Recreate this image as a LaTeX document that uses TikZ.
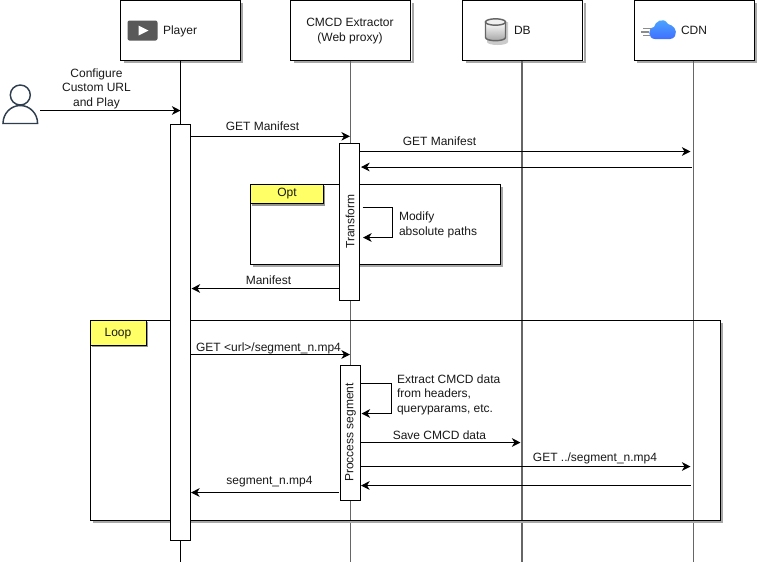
\documentclass[tikz,border=0pt]{standalone}
\usepackage{fontspec}
\setmainfont{Liberation Sans}
\usetikzlibrary{arrows.meta,shadings}
\definecolor{shadowgray}{HTML}{A8A8A8}
\definecolor{lifegray}{HTML}{666666}
\definecolor{noteyellow}{HTML}{FFFF66}
\definecolor{persondark}{HTML}{2F3E4E}
\tikzset{
  x=0.75pt,y=-0.75pt,
  every node/.style={font=\fontsize{9pt}{10.9pt}\selectfont,text=black!90,inner sep=0pt,outer sep=0pt},
  headbox/.style={draw=black,fill=white,line width=0.75pt,minimum width=90pt,minimum height=45pt,anchor=north west},
  actbar/.style={draw=black,fill=white,line width=0.75pt,minimum width=15pt,anchor=north west},
  lifeline/.style={draw=black,line width=0.75pt},
  lifelinegray/.style={draw=lifegray,line width=1.2pt},
  msg/.style={draw=black,line width=0.75pt,-{Stealth[length=6.5pt,width=6.5pt,inset=2pt]}},
  framebox/.style={draw=black,line width=0.85pt,anchor=north west},
  tagbox/.style={draw=black,fill=noteyellow,line width=0.75pt,anchor=north west},
  shadowline/.style={draw=shadowgray,line width=1.2pt},
  lbl/.style={align=center,anchor=center},
  lblleft/.style={align=left,anchor=west}
}
\begin{document}
\begin{tikzpicture}
\useasboundingbox (0,0) rectangle (757,562);
\fill[white] (0,0) rectangle (757,562);

% header shadows
\foreach \xa in {120.5,291,463,634}{
  \draw[shadowgray,line width=1.5pt] (\xa+120+1.5,3) -- (\xa+120+1.5,62) -- (\xa+3,62);
}
% header boxes
\node[headbox] (player) at (120.5,0.5) {};
\node[headbox] (proxy) at (290.5,0.5) {};
\node[headbox] (db) at (462.5,0.5) {};
\node[headbox] (cdn) at (634.5,0.5) {};

\node[anchor=west] (playerlbl) at (163,31) {Player};
\node[align=center] (proxylbl) at (350,31) {CMCD Extractor\\(Web proxy)};
\node[anchor=west] (dblbl) at (514,30.5) {DB};
\node[anchor=west] (cdnlbl) at (681,30.5) {CDN};

% lifeline ends
\coordinate (playerend) at (180.5,562);
\coordinate (proxyend) at (350.3,562);
\coordinate (dbend) at (522,562);
\coordinate (cdnend) at (693.5,562);

\draw[lifeline] (player.south) -- (playerend);
\draw[lifelinegray] (350.3,60.5) -- (proxyend);
\draw[lifelinegray] (522,60.5) -- (dbend);
\draw[lifelinegray] (693.5,60.5) -- (cdnend);

% Frames: shadows, then outlines
\draw[shadowline] (502,187) -- (502,266) -- (253,266);
\draw[shadowline] (722,323) -- (722,522) -- (93,522);
\node[framebox,minimum width=187.5pt,minimum height=60pt] (optframe) at (250.5,184.5) {};
\node[framebox,minimum width=472.5pt,minimum height=150pt] (loopframe) at (90.5,320.5) {};
% tag shadows
\draw[lifegray!70,line width=1pt] (324.5,186) -- (324.5,205) -- (252,205);
\draw[lifegray!70,line width=1pt] (147.5,322) -- (147.5,346) -- (92,346);
\node[tagbox,minimum width=54.5pt,minimum height=14.5pt] (opttag) at (250.5,184.5) {};
\node[tagbox,minimum width=42pt,minimum height=18.5pt] (looptag) at (90.5,320.5) {};
\node[lbl] (optlbl) at (287,194) {Opt};
\node[lbl] (looplbl) at (118,333.5) {Loop};

% activation bars
\node[actbar,minimum height=312pt] (barplayer) at (170.5,124.5) {};
\node[actbar,minimum height=117.5pt] (bartransform) at (339.5,143.5) {};
\node[actbar,minimum height=101.5pt] (barprocess) at (340.5,365.5) {};
\node[rotate=90] (transformlbl) at (350,221.5) {Transform};
\node[rotate=90] (processlbl) at (350.5,432.5) {Proccess segment};

% user
\draw[persondark,line width=1.1pt,fill=white] (3,123.5) arc[start angle=180,end angle=360,x radius=17.3,y radius=18] -- cycle;
\draw[persondark,line width=1.1pt,fill=white] (20.3,95) circle[radius=10];

% video icon
\fill[black!65,rounded corners=1.5pt] (127.5,20.5) rectangle (157.5,40.5);
\fill[white] (138.5,25.5) -- (148.5,30.5) -- (138.5,35.5) -- cycle;

% DB icon
\fill[shadowgray!60] (487,22) -- (487,42) arc[start angle=180,end angle=0,x radius=10.5,y radius=3] -- (508,22) -- cycle;
\shade[top color=white,bottom color=black!35,draw=black!60,line width=1.1pt]
  (485.5,22) -- (485.5,37.5)
  arc[start angle=180,end angle=0,x radius=10,y radius=3.2] -- (505.5,22) -- cycle;
\fill[black!6,draw=black!60,line width=1.1pt] (495.5,22) ellipse[x radius=10,y radius=3.2];

% CDN icon
\shade[top color=blue!45!cyan!70!white,bottom color=blue!75!cyan!75!white]
  (655,39) .. controls (648,39) and (647,28) .. (654,27)
  .. controls (655,22) and (663,16) .. (668,24)
  .. controls (673,25) and (678,30) .. (675,36)
  .. controls (674,38) and (672,39) .. (670,39) -- cycle;
\draw[black!45,line width=0.9pt] (643,28.5) -- (652,28.5);
\draw[black!45,line width=0.9pt] (641,32) -- (649,32);
\draw[black!45,line width=0.9pt] (643,35.5) -- (650,35.5);

% connector end points
\coordinate (userhand) at (40,110.5);
\coordinate (playerin) at (180.5,110.5);
\coordinate (m1a) at (190.5,136.3);
\coordinate (m1b) at (350,136.3);
\coordinate (m2a) at (359.5,151.5);
\coordinate (m2b) at (690.5,151.5);
\coordinate (m3a) at (691.5,167);
\coordinate (m3b) at (361,167);
\coordinate (s1a) at (362.5,207.5);
\coordinate (s1b) at (392.5,207.5);
\coordinate (s1c) at (392.5,237.5);
\coordinate (s1d) at (363,237.5);
\coordinate (m4a) at (339.5,288.5);
\coordinate (m4b) at (191.5,288.5);
\coordinate (m5a) at (191,354.5);
\coordinate (m5b) at (350,354.5);
\coordinate (s2a) at (361,383.5);
\coordinate (s2b) at (391,383.5);
\coordinate (s2c) at (391,413.5);
\coordinate (s2d) at (361.5,413.5);
\coordinate (m6a) at (361,442.5);
\coordinate (m6b) at (520.5,442.5);
\coordinate (m7a) at (361,466.5);
\coordinate (m7b) at (690.5,466.5);
\coordinate (m8a) at (691,485.5);
\coordinate (m8b) at (361,485.5);
\coordinate (m9a) at (338.5,492.5);
\coordinate (m9b) at (191,492.5);

% connectors
\draw[msg] (userhand) -- (playerin);
\draw[msg] (m1a) -- (m1b);
\draw[msg] (m2a) -- (m2b);
\draw[msg] (m3a) -- (m3b);
\draw[msg] (s1a) -- (s1b) -- (s1c) -- (s1d);
\draw[msg] (m4a) -- (m4b);
\draw[msg] (m5a) -- (m5b);
\draw[msg] (s2a) -- (s2b) -- (s2c) -- (s2d);
\draw[msg] (m6a) -- (m6b);
\draw[msg] (m7a) -- (m7b);
\draw[msg] (m8a) -- (m8b);
\draw[msg] (m9a) -- (m9b);

% labels
\node[lbl] (configlbl) at (96.5,88.7) {Configure\\Custom URL\\and Play};
\node[lbl] (m1lbl) at (262.5,126.5) {GET Manifest};
\node[lbl] (m2lbl) at (439.5,141.3) {GET Manifest};
\node[lblleft] (s1lbl) at (399,224.7) {Modify\\absolute paths};
\node[lbl] (m4lbl) at (268.5,280.5) {Manifest};
\node[lbl] (m5lbl) at (268.5,348.3) {GET <url>/segment\_n.mp4};
\node[lblleft] (s2lbl) at (397,394.7) {Extract CMCD data\\from headers,\\queryparams, etc.};
\node[lbl] (m6lbl) at (439.5,435.5) {Save CMCD data};
\node[lbl] (m7lbl) at (595,458) {GET ../segment\_n.mp4};
\node[lbl] (m9lbl) at (269.5,482) {segment\_n.mp4};
\end{tikzpicture}
\end{document}
